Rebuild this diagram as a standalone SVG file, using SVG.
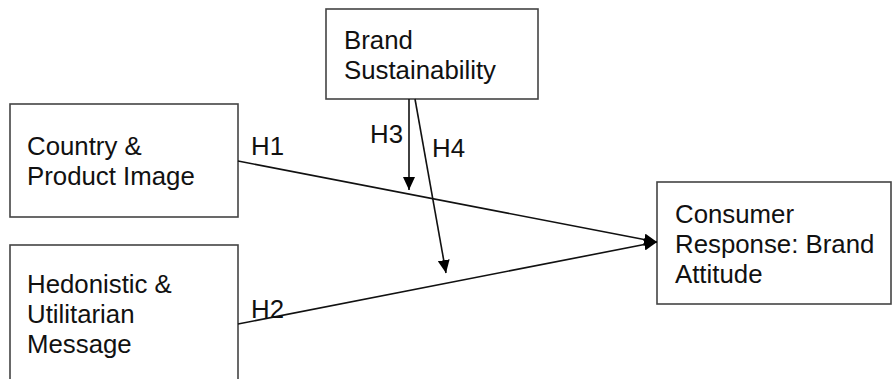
<svg xmlns="http://www.w3.org/2000/svg" width="892" height="379" viewBox="0 0 892 379">
<style>
.box{fill:#fff;stroke:#444;stroke-width:1.6}
.t{font-family:"Liberation Sans",Arial,sans-serif;font-size:25.8px;fill:#111}
.c{stroke:#111;stroke-width:1.6;fill:none}
</style>
<defs>
<marker id="ah" viewBox="0 0 13 12" refX="13" refY="6" markerWidth="13" markerHeight="12" markerUnits="userSpaceOnUse" orient="auto">
<path d="M0,0 L13,6 L0,12 Z" fill="#000"/>
</marker>
</defs>
<rect width="892" height="379" fill="#fff"/>
<g id="brand">
<rect class="box" x="326" y="9" width="212" height="90"/>
<text class="t" x="344" y="49">Brand</text>
<text class="t" x="344" y="79">Sustainability</text>
</g>
<g id="country">
<rect class="box" x="10" y="104" width="228" height="113"/>
<text class="t" x="27" y="155">Country &amp;</text>
<text class="t" x="27" y="185">Product Image</text>
</g>
<g id="hedonistic">
<rect class="box" x="10" y="245" width="228" height="150"/>
<text class="t" x="27" y="293">Hedonistic &amp;</text>
<text class="t" x="27" y="323">Utilitarian</text>
<text class="t" x="27" y="353">Message</text>
</g>
<g id="consumer">
<rect class="box" x="657" y="182" width="234" height="122"/>
<text class="t" x="675" y="223">Consumer</text>
<text class="t" x="675" y="253">Response: Brand</text>
<text class="t" x="675" y="283">Attitude</text>
</g>
<g id="connectors">
<line class="c" x1="238" y1="161" x2="657" y2="242" marker-end="url(#ah)"/>
<line class="c" x1="238" y1="324" x2="657" y2="242" marker-end="url(#ah)"/>
<line class="c" x1="409" y1="99" x2="409" y2="190" marker-end="url(#ah)"/>
<line class="c" x1="415" y1="99" x2="446" y2="273" marker-end="url(#ah)"/>
<text class="t" x="251" y="155">H1</text>
<text class="t" x="251" y="318">H2</text>
<text class="t" x="370" y="143">H3</text>
<text class="t" x="432" y="157">H4</text>
</g>
</svg>
